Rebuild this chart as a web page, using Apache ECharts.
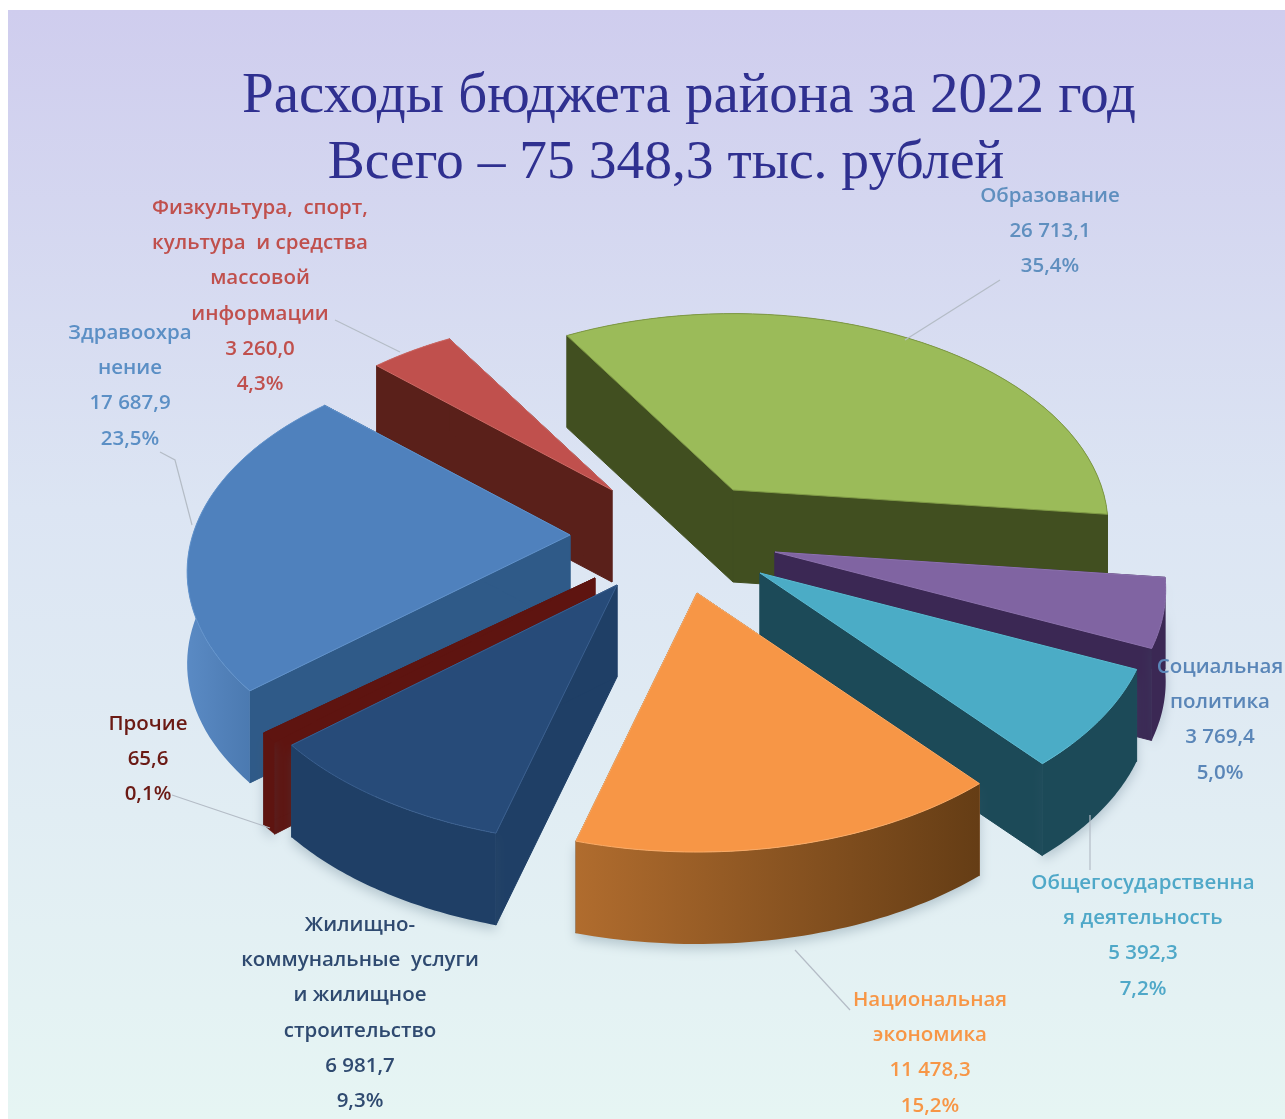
<!DOCTYPE html>
<html><head><meta charset="utf-8">
<style>html,body{margin:0;padding:0;background:#fff}#c{width:1285px;height:1119px}</style>
<script src="https://cdn.jsdelivr.net/npm/echarts@6/dist/echarts.min.js"></script></head>
<body><div id="c"></div>
<script>
// ---- data ----
const titleLines = ['Расходы бюджета района за 2022 год', 'Всего – 75 348,3 тыс. рублей'];
const categories = [
  ['Образование'],
  ['Социальная', 'политика'],
  ['Общегосударственна', 'я деятельность'],
  ['Национальная', 'экономика'],
  ['Жилищно-', 'коммунальные  услуги', 'и жилищное', 'строительство'],
  ['Прочие'],
  ['Здравоохра', 'нение'],
  ['Физкультура,  спорт,', 'культура  и средства', 'массовой', 'информации']
];
const values = [26713.1, 3769.4, 5392.3, 11478.3, 6981.7, 65.6, 17687.9, 3260.0];
const percents = ['35,4%', '5,0%', '7,2%', '15,2%', '9,3%', '0,1%', '23,5%', '4,3%'];

// ---- style ----
const W = 1285, H = 1119;
const CX = 665, CY = 540, RAD = 385, RADQ = 215, PERSP = 0.17, DEPTH = 92, START = -31, MIN_SPAN = 2.6;
const explode = [[68,-50],[110,12],[95,33],[32,53],[-48,45],[-70,38],[-95,-5],[-53,-50]];
const radialScale = [0.96,1,1,1,1,1,0.98,0.94];
const drawOrder = [1,3,4,8,7,6,5,2];
const topColors = ['#9bbb59','#8064a2','#4bacc6','#f79646','#274b79','#5e1410','#4f81bd','#c0504d'];
const edgeColors = ['#7f9a45','#8c72ad','#5cbad2','#fbab66','#3a5f8f','#5e1410','#6293cc','#cf6a66'];
const cutColors = ['#414f20','#3b2854','#1c4a58','#8c5423','#1f3f66','#5e1410','#2f5a88','#5a201a'];
const arcLeft = ['#414f20','#3b2854','#1c4a58','#b06c2e','#1f3f66','#5e1410','#5a8ac4','#5a201a'];
const arcRight = ['#414f20','#3b2854','#1c4a58','#653d15','#1f3f66','#5e1410','#3a6699','#5a201a'];
const labelColors = ['#5f8fbf','#5a86b8','#4fa8c8','#f79646','#2f4a70','#6b1a14','#5b8fc5','#c0504d'];
const labelPos = [[1050,196],[1220,667],[1143,883],[930,1000],[360,925],[148,724],[130,333],[260,208]];
const LINE_H = 35.3;
const leaders = [
  [[1000,280],[905,340]], null, [[1090,815],[1090,870]], [[795,950],[850,1010]], null,
  [[172,795],[270,828]], [[160,452],[175,460],[192,525]], [[335,320],[400,352]]
];

const total = values.reduce((a,b)=>a+b,0);
const fmtValue = v => {
  const s = v.toFixed(1).split('.');
  return s[0].replace(/\B(?=(\d{3})+$)/g,' ') + ',' + s[1];
};
function proj(thetaDeg) {
  const t = thetaDeg*Math.PI/180, x = Math.sin(t), y = Math.cos(t), w = 1/(1+PERSP*y);
  return [RAD*x*w, -RADQ*y*w];
}
function renderSlice(params, api) {
  const i = params.dataIndex;
  let a0 = START;
  for (let k=0;k<i;k++) a0 += values[k]/total*360;
  let span = api.value(0)/total*360;
  if (span < MIN_SPAN) { a0 -= (MIN_SPAN-span)/2; span = MIN_SPAN; }
  const ax = CX+explode[i][0], ay = CY+explode[i][1];
  const arc = [];
  const n = 48;
  const rs = radialScale[i];
  for (let k=0;k<=n;k++){ const p = proj(a0+span*k/n); arc.push([ax+p[0]*rs, ay+p[1]*rs]); }
  const down = p => [p[0], p[1]+DEPTH];
  const z = drawOrder[i]*10;
  const grad = new echarts.graphic.LinearGradient(0,0,1,0,[{offset:0,color:arcLeft[i]},{offset:1,color:arcRight[i]}]);
  const apex = [ax,ay], first = arc[0], last = arc[n];
  const arcFace = arc.concat(arc.slice().reverse().map(down));
  const mid = ((a0+span/2)%360+360)%360;
  const near = mid>95 && mid<265;
  const arcStyle = near ? {fill:grad, shadowBlur:12, shadowColor:'rgba(60,90,110,0.28)', shadowOffsetY:5} : {fill:grad};
  const cutStyle = {fill:cutColors[i], stroke:cutColors[i], lineWidth:1};
  const children = [
    {type:'polygon', z2:z, shape:{points:[apex,first,down(first),down(apex)]}, style:cutStyle},
    {type:'polygon', z2:z, shape:{points:[apex,last,down(last),down(apex)]}, style:cutStyle},
    {type:'polygon', z2:z+1, shape:{points:arcFace}, style:arcStyle},
    {type:'polygon', z2:z+2, shape:{points:[apex].concat(arc)}, style:{fill:topColors[i], stroke:edgeColors[i], lineWidth:1, lineJoin:'round'}}
  ];
  return {type:'group', children};
}
function renderLabel(params, api) {
  const i = params.dataIndex;
  const lines = categories[i].concat([fmtValue(api.value(0)), percents[i]]);
  const children = lines.map((t,k)=>({
    type:'text', z2:200,
    style:{x:labelPos[i][0], y:labelPos[i][1]+k*LINE_H, text:t, fill:labelColors[i], align:'center', verticalAlign:'middle',
      font:'600 20.5px "Open Sans", sans-serif'}
  }));
  if (leaders[i]) children.push({type:'polyline', z2:90, shape:{points:leaders[i]}, style:{stroke:'#b4bcc6', lineWidth:1.2, fill:null}});
  return {type:'group', children};
}
const chart = echarts.init(document.getElementById('c'), null, {renderer:'canvas', width:W, height:H});
const titleStyle = size => ({fontFamily:'"Liberation Serif", serif', fontWeight:'normal', fontSize:size, color:'#2f3090'});
chart.setOption({
  animation:false,
  title:[
    {text:titleLines[0], left:684, top:64, textAlign:'center', textStyle:titleStyle(57)},
    {text:titleLines[1], left:661, top:130, textAlign:'center', textStyle:titleStyle(55.5)}
  ],
  graphic:[{type:'rect', z:-10, shape:{x:8,y:10,width:W-8,height:H-10},
    style:{fill:new echarts.graphic.LinearGradient(0,0,0,1,[{offset:0,color:'#cfcdee'},{offset:0.45,color:'#dce5f3'},{offset:1,color:'#e6f5f3'}])}}],
  series:[
    {type:'custom', coordinateSystem:'none', renderItem:renderSlice, data:values.map(v=>[v]), silent:true, z:2},
    {type:'custom', coordinateSystem:'none', renderItem:renderLabel, data:values.map(v=>[v]), silent:true, z:3}
  ]
});
</script></body></html>
